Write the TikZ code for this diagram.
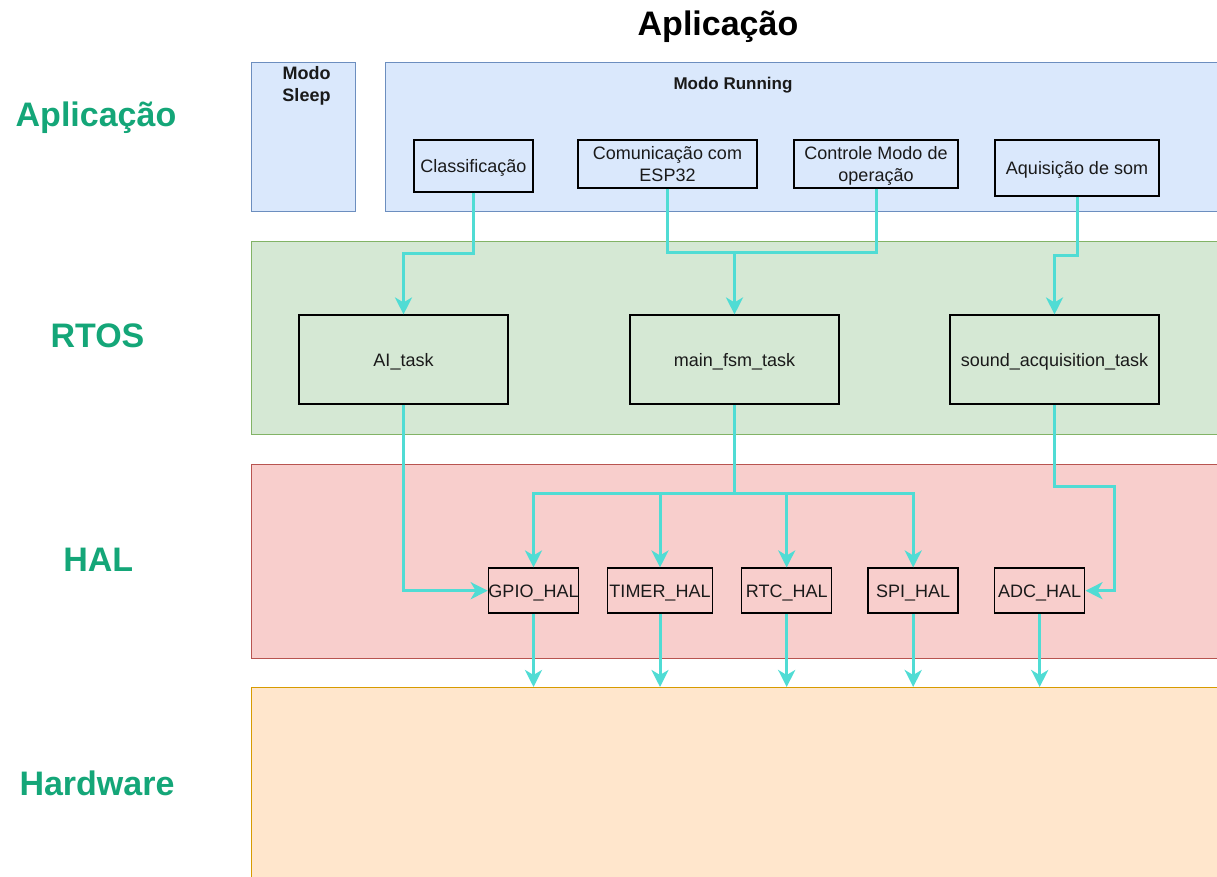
\documentclass[tikz,border=0pt]{standalone}
\usepackage{fontspec}
\setmainfont{Liberation Sans}
\usetikzlibrary{arrows.meta}
\definecolor{conncol}{RGB}{80,220,212}
\definecolor{appfill}{HTML}{DAE8FC}
\definecolor{appdraw}{HTML}{6C8EBF}
\definecolor{rtosfill}{HTML}{D5E8D4}
\definecolor{rtosdraw}{HTML}{82B366}
\definecolor{halfill}{HTML}{F8CECC}
\definecolor{haldraw}{HTML}{B85450}
\definecolor{hwfill}{HTML}{FFE6CC}
\definecolor{hwdraw}{HTML}{D79B00}
\definecolor{lblgreen}{RGB}{20,166,120}
\definecolor{txt}{HTML}{1A1A1A}
\tikzset{
  layer/.style={line width=1.3pt, anchor=north west, inner sep=0pt},
  box/.style={draw=black, line width=1.5pt, inner sep=0pt, align=center, text=txt,
    font=\fontsize{18}{21.7}\selectfont, text height=13pt, text depth=0pt},
  twoline/.style={box, text height=34.7pt, text depth=0pt},
  sidelbl/.style={anchor=base, text=lblgreen, font=\fontsize{34}{40}\selectfont\bfseries},
  conn/.style={draw=conncol, line width=3pt, -{Stealth[length=17pt,width=17pt,inset=5pt]}},
  plainline/.style={draw=conncol, line width=3pt}
}
\begin{document}
\begin{tikzpicture}[x=1pt,y=-1pt]
\useasboundingbox (0,0) rectangle (1217,877);

% layers
\node[layer, draw=appdraw, fill=appfill, minimum width=104pt, minimum height=149pt] (sleep) at (251,62) {};
\node[layer, draw=appdraw, fill=appfill, minimum width=840pt, minimum height=149pt] (running) at (385,62) {};
\node[layer, draw=rtosdraw, fill=rtosfill, minimum width=974pt, minimum height=193pt] (rtos) at (251,241) {};
\node[layer, draw=haldraw, fill=halfill, minimum width=974pt, minimum height=194pt] (hal) at (251,464) {};
\node[layer, draw=hwdraw, fill=hwfill, minimum width=974pt, minimum height=210pt] (hw) at (251,687) {};

% titles
\node[anchor=base, font=\fontsize{34}{40}\selectfont\bfseries] (title) at (718,36) {Aplicação};
\node[sidelbl] (lapp) at (96,127) {Aplicação};
\node[sidelbl] (lrtos) at (97.5,347.3) {RTOS};
\node[sidelbl] (lhal) at (98.3,571.7) {HAL};
\node[sidelbl] (lhw) at (97,795) {Hardware};

\node[anchor=north, inner sep=0pt, align=center, text=txt, font=\fontsize{18}{21.7}\selectfont\bfseries] (sleeplbl) at (306.5,66.5) {Modo\\Sleep};
\node[anchor=base, inner sep=0pt, text=txt, font=\fontsize{17}{20}\selectfont\bfseries] (runlbl) at (733,90) {Modo Running};

% application boxes
\node[box, minimum width=119pt, minimum height=52pt] (cls) at (473.5,166) {Classificação};
\node[twoline, minimum width=179pt, minimum height=48pt] (com) at (667.5,164) {Comunicação com\\ESP32};
\node[twoline, minimum width=164pt, minimum height=48pt] (ctl) at (876,164) {Controle Modo de\\operação};
\node[box, minimum width=164pt, minimum height=56pt] (aq) at (1077,168) {Aquisição de som};

% RTOS boxes
\node[box, minimum width=209pt, minimum height=89pt] (ai) at (403.5,359.7) {AI\_task};
\node[box, minimum width=209pt, minimum height=89pt] (fsm) at (734.5,359.7) {main\_fsm\_task};
\node[box, minimum width=209pt, minimum height=89pt] (sat) at (1054.5,359.7) {sound\_acquisition\_task};

% HAL boxes
\node[box, minimum width=90pt, minimum height=45pt] (gpio) at (533.5,590.7) {GPIO\_HAL};
\node[box, minimum width=105pt, minimum height=45pt] (tmr) at (660,590.7) {TIMER\_HAL};
\node[box, minimum width=90pt, minimum height=45pt] (rtc) at (786.7,590.7) {RTC\_HAL};
\node[box, minimum width=90pt, minimum height=45pt] (spi) at (913.2,590.7) {SPI\_HAL};
\node[box, minimum width=90pt, minimum height=45pt] (adc) at (1039.7,590.7) {ADC\_HAL};

% connectors app -> rtos
\draw[conn] (cls.south) -- ++(0,60.7) -| (ai.north);
\coordinate (j1) at (734.5,252.7);
\draw[plainline] (com.south) |- (j1);
\draw[plainline] (ctl.south) |- (j1);
\draw[conn] (j1) -- (fsm.north);
\draw[conn] (aq.south) -- ++(0,59) -| (sat.north);

% rtos -> hal
\draw[conn] (ai.south) |- (gpio.west);
\coordinate (j2) at (734.5,493.3);
\draw[plainline] (fsm.south) -- (j2);
\draw[plainline] (gpio.north |- j2) -- (spi.north |- j2);
\draw[conn] (j2) -| (gpio.north);
\draw[conn] (j2) -| (tmr.north);
\draw[conn] (j2) -| (rtc.north);
\draw[conn] (j2) -| (spi.north);
\draw[conn] (sat.south) -- ++(0,82) -- ++(60.3,0) |- (adc.east);

% hal -> hardware
\draw[conn] (gpio.south) -- (gpio.south |- hw.north);
\draw[conn] (tmr.south) -- (tmr.south |- hw.north);
\draw[conn] (rtc.south) -- (rtc.south |- hw.north);
\draw[conn] (spi.south) -- (spi.south |- hw.north);
\draw[conn] (adc.south) -- (adc.south |- hw.north);
\end{tikzpicture}
\end{document}
